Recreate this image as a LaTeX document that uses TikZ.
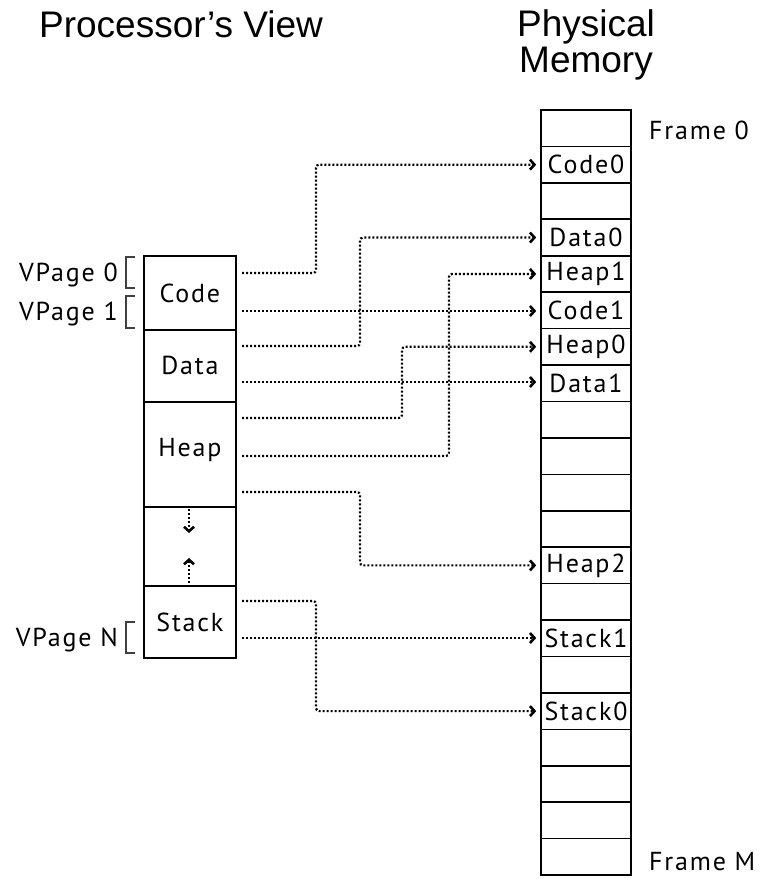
\documentclass[tikz,border=0pt]{standalone}
\usepackage{fontspec}
\setmainfont{PT Sans}[LetterSpace=7]
\newfontfamily\titlefont{Liberation Sans}
\usetikzlibrary{arrows.meta}
\begin{document}
\begin{tikzpicture}[x=1pt,y=-1pt,
  lbl/.style={font=\fontsize{26}{26}\selectfont},
  cell/.style={draw, line width=1.8pt, minimum width=92pt, inner sep=0pt, lbl, anchor=north west},
  frm/.style={draw, line width=1.6pt, minimum width=90pt, minimum height=36.43pt, inner sep=0pt, lbl},
  conn/.style={line width=2.2pt, dash pattern=on 2pt off 2pt, line cap=butt, rounded corners=3pt,
    -{Straight Barb[length=4.5pt,width=10pt,line width=2.6pt]}, shorten >=4pt},
  title/.style={font=\titlefont\fontsize{37}{37}\selectfont, inner sep=0pt},
  side/.style={lbl, inner sep=0pt},
  brk/.style={line width=1.1pt, draw=black!75}]
\useasboundingbox (0,0) rectangle (763,879);

% titles
\node[title, anchor=base] (pv) at (181,37) {Processor’s View};
\node[title, anchor=base] (phys) at (586,36) {Physical};
\node[title, anchor=base] (mem) at (586,72) {Memory};

% processor's view
\node[cell, minimum height=74pt] (code) at (143,255) {Code};
\node[cell, minimum height=72pt] (data) at (143,329) {Data};
\node[cell, minimum height=105pt, text depth=14pt] (heap) at (143,401) {Heap};
\node[cell, minimum height=79pt] (gap) at (143,506) {};
\node[cell, minimum height=72pt] (stack) at (143,585) {Stack};

% vpage labels and brackets
\node[side, anchor=base east] (vp0) at (118,281) {VPage 0};
\node[side, anchor=base east] (vp1) at (118,320) {VPage 1};
\node[side, anchor=base east] (vpn) at (118,646) {VPage N};
\draw[brk] (135,257) -- (126,257) -- (126,288) -- (135,288);
\draw[brk] (135,296) -- (126,296) -- (126,328) -- (135,328);
\draw[brk] (135,622) -- (126,622) -- (126,653) -- (135,653);

% physical memory
\foreach \i/\t in {0/,1/Code0,2/,3/Data0,4/Heap1,5/Code1,6/Heap0,7/Data1,8/,9/,10/,11/,12/Heap2,13/,14/Stack1,15/,16/Stack0,17/,18/,19/,20/}
  \node[frm] (f\i) at (586,{110+36.43*(\i+0.5)}) {\t};
\node[side, anchor=base west] (fr0) at (649,139) {Frame 0};
\node[side, anchor=base west] (frm) at (649,870) {Frame M};

% start points
\coordinate (s0) at (242,273);
\coordinate (s1) at (242,311);
\coordinate (s2) at (242,346);
\coordinate (s3) at (242,382);
\coordinate (s4) at (242,418);
\coordinate (s5) at (242,456);
\coordinate (s6) at (242,492);
\coordinate (s9) at (242,601);
\coordinate (s10) at (242,638);

\draw[conn] (s0) -- ++(74,0) |- (f1.west);
\draw[conn] (s1) -- (f5.west |- s1);
\draw[conn] (s2) -- ++(118,0) |- (f3.west);
\draw[conn] (s3) -- (f7.west |- s3);
\draw[conn] (s4) -- ++(160,0) |- (f6.west);
\draw[conn] (s5) -- ++(207,0) |- (f4.west);
\draw[conn] (s6) -- ++(118,0) |- (f12.west);
\draw[conn] (s9) -- ++(74,0) |- (f16.west);
\draw[conn] (s10) -- (f14.west |- s10);

% growth arrows
\coordinate (g1) at (189,509);
\coordinate (g2) at (189,533);
\coordinate (g3) at (189,583);
\coordinate (g4) at (189,558);
\draw[conn, shorten >=0pt] (g1) -- (g2);
\draw[conn, shorten >=0pt] (g3) -- (g4);
\end{tikzpicture}
\end{document}
